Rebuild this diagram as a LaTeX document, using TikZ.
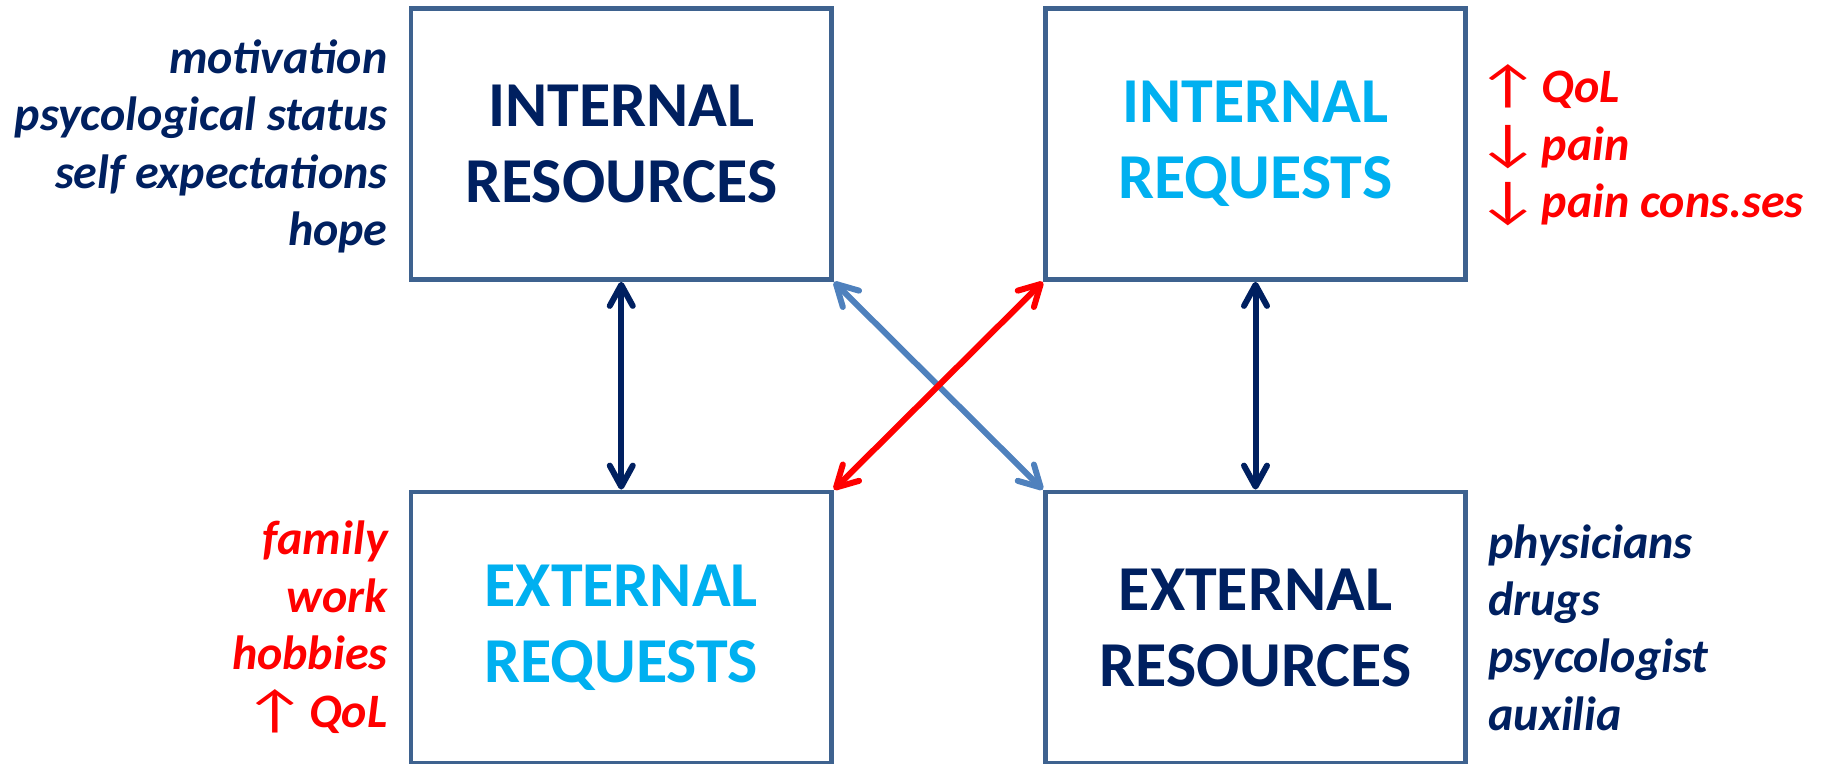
\documentclass[tikz,border=0pt]{standalone}
\usepackage{fontspec}
\usepackage{graphicx}
\setmainfont{Carlito}
\usetikzlibrary{arrows.meta}
\definecolor{navy}{RGB}{0,32,96}
\definecolor{lblue}{RGB}{0,176,240}
\definecolor{bred}{RGB}{255,0,0}
\definecolor{boxc}{RGB}{62,98,143}
\definecolor{diagblue}{RGB}{79,129,189}
\newcommand{\upar}{\scalebox{1.35}[1]{\mdseries\upshape\fontsize{26}{26}\selectfont ↑}\hspace{1pt}}
\newcommand{\dnar}{\scalebox{1.35}[1]{\mdseries\upshape\fontsize{26}{26}\selectfont ↓}\hspace{1pt}}
\begin{document}
\begin{tikzpicture}[x=0.5pt,y=-0.5pt,
  box/.style={draw=boxc,line width=2.4pt,minimum width=210.25pt,minimum height=135.5pt,
    align=center,font=\fontsize{32}{38}\selectfont\bfseries,inner sep=0pt},
  side/.style={font=\fontsize{24}{28.7}\selectfont\bfseries\itshape,inner sep=0pt},
  conn/.style={line width=3pt,
    {Straight Barb[round,length=10.5pt,width=11.5pt]}-{Straight Barb[round,length=10.5pt,width=11.5pt]}}]
\useasboundingbox (0,0) rectangle (1822,764);

\node[box,text=navy]  (IR) at (621.25,144)  {INTERNAL\\RESOURCES};
\node[box,text=lblue] (IQ) at (1255.5,144)  {INTERNAL\\REQUESTS};
\node[box,text=lblue] (EQ) at (621.25,627.5) {EXTERNAL\\REQUESTS};
\node[box,text=navy]  (ER) at (1255.5,627.5) {EXTERNAL\\RESOURCES};

\draw[conn,navy] (IR.south) -- (EQ.north);
\draw[conn,navy] (IQ.south) -- (ER.north);
\draw[conn,diagblue] (IR.south east) -- (ER.north west);
\draw[conn,bred] (EQ.north east) -- (IQ.south west);

% internal resources list
\node[side,text=navy,anchor=base east] (a1) at (388,74)  {motivation};
\node[side,text=navy,anchor=base east] (a2) at (388,131) {psycological status};
\node[side,text=navy,anchor=base east] (a3) at (388,189) {self expectations};
\node[side,text=navy,anchor=base east] (a4) at (388,246) {hope};

% internal requests list
\node[side,text=bred,anchor=base west] (b1) at (1476,103) {\upar QoL};
\node[side,text=bred,anchor=base west] (b2) at (1476,161) {\dnar pain};
\node[side,text=bred,anchor=base west] (b3) at (1476,218) {\dnar pain cons.ses};

% external requests list
\node[side,text=bred,anchor=base east] (c1) at (388,555) {family};
\node[side,text=bred,anchor=base east] (c2) at (388,612) {work};
\node[side,text=bred,anchor=base east] (c3) at (388,669) {hobbies};
\node[side,text=bred,anchor=base east] (c4) at (388,727) {\upar QoL};

% external resources list
\node[side,text=navy,anchor=base west] (d1) at (1488,559) {physicians};
\node[side,text=navy,anchor=base west] (d2) at (1488,616) {drugs};
\node[side,text=navy,anchor=base west] (d3) at (1488,673) {psycologist};
\node[side,text=navy,anchor=base west] (d4) at (1488,730) {auxilia};
\end{tikzpicture}
\end{document}
